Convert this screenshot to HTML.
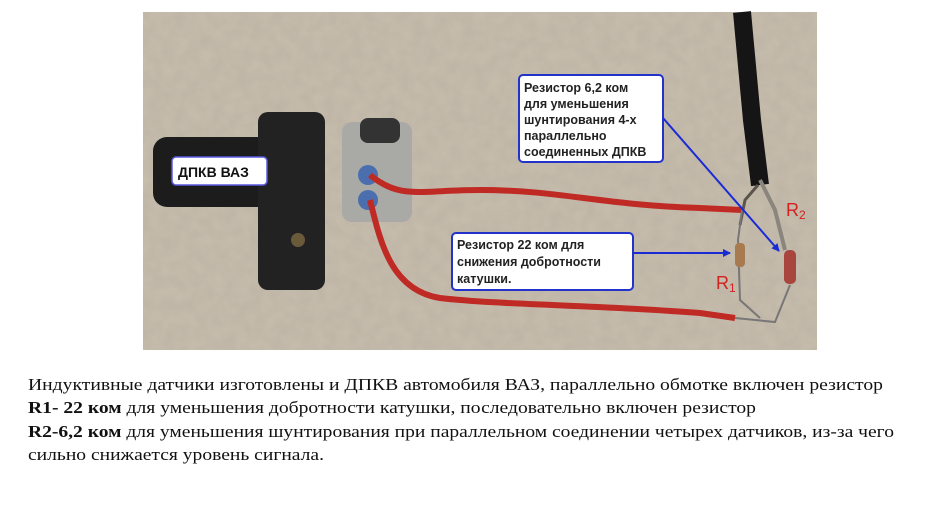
<!DOCTYPE html>
<html><head><meta charset="utf-8"><style>
html,body{margin:0;padding:0;background:#fff;width:931px;height:508px;overflow:hidden}
</style></head><body>
<svg width="931" height="508" viewBox="0 0 931 508" xmlns="http://www.w3.org/2000/svg">
<defs>
<filter id="tex" x="0" y="0" width="100%" height="100%">
<feTurbulence type="fractalNoise" baseFrequency="0.08" numOctaves="2" seed="3"/>
<feColorMatrix type="matrix" values="0 0 0 0 0.35  0 0 0 0 0.32  0 0 0 0 0.28  0 0 0 0.5 -0.1"/>
</filter>
<marker id="ah" markerWidth="8" markerHeight="8" refX="7" refY="4" orient="auto" markerUnits="userSpaceOnUse"><path d="M0,0 L8,4 L0,8 z" fill="#1a2bd6"/></marker>
</defs>
<rect x="143" y="12" width="674" height="338" fill="#c6bcac"/>
<rect x="143" y="12" width="674" height="338" filter="url(#tex)" opacity="0.6"/>
<!-- black cable -->
<path d="M742,12 L752,120 L760,185" stroke="#151515" stroke-width="18" fill="none"/>
<path d="M760,180 L775,210 L785,250" stroke="#8a857d" stroke-width="4" fill="none"/>
<path d="M758,185 L745,200 L740,225" stroke="#5a544c" stroke-width="3" fill="none"/>
<!-- sensor -->
<rect x="153" y="137" width="120" height="70" rx="14" fill="#1c1c1c"/>
<rect x="258" y="112" width="67" height="178" rx="10" fill="#222"/>
<circle cx="298" cy="240" r="7" fill="#6b5a3a"/>
<!-- connector -->
<rect x="342" y="122" width="70" height="100" rx="10" fill="#a9a9a6"/>
<rect x="360" y="118" width="40" height="25" rx="8" fill="#333"/>
<circle cx="368" cy="175" r="10" fill="#4b6fae"/>
<circle cx="368" cy="200" r="10" fill="#4b6fae"/>
<!-- wires -->
<path d="M370,175 C400,200 420,190 480,190 C560,190 600,205 700,208 L742,210" stroke="#c02a24" stroke-width="6" fill="none"/>
<path d="M370,200 C380,240 390,290 440,298 C500,305 600,305 700,313 L735,318" stroke="#c02a24" stroke-width="6" fill="none"/>
<path d="M735,318 L775,322 L790,285 M742,210 L738,240 L740,300 L760,318" stroke="#777" stroke-width="2" fill="none"/>
<!-- resistors -->
<rect x="735" y="243" width="10" height="24" rx="4" fill="#a87a50"/>
<rect x="784" y="250" width="12" height="34" rx="5" fill="#a8463e"/>
<!-- labels -->
<rect x="172" y="157" width="95" height="28" rx="4" fill="#fff" stroke="#5a5adf" stroke-width="1.5"/>
<text x="178" y="177" font-family="Liberation Sans, sans-serif" font-weight="bold" font-size="14" fill="#111">ДПКВ ВАЗ</text>
<rect x="519" y="75" width="144" height="87" rx="4" fill="#fff" stroke="#2233cc" stroke-width="2"/>
<g font-family="Liberation Sans, sans-serif" font-weight="bold" font-size="12.5" fill="#222">
<text x="524" y="92">Резистор 6,2 ком</text>
<text x="524" y="108">для уменьшения</text>
<text x="524" y="124">шунтирования 4-х</text>
<text x="524" y="140">параллельно</text>
<text x="524" y="156">соединенных ДПКВ</text>
</g>
<rect x="452" y="233" width="181" height="57" rx="4" fill="#fff" stroke="#2233cc" stroke-width="2"/>
<g font-family="Liberation Sans, sans-serif" font-weight="bold" font-size="12.5" fill="#222">
<text x="457" y="249">Резистор 22 ком для</text>
<text x="457" y="266">снижения добротности</text>
<text x="457" y="283">катушки.</text>
</g>
<line x1="663" y1="118" x2="779" y2="251" stroke="#1a2bd6" stroke-width="2" marker-end="url(#ah)"/>
<line x1="633" y1="253" x2="730" y2="253" stroke="#1a2bd6" stroke-width="2" marker-end="url(#ah)"/>
<text x="786" y="216" font-family="Liberation Sans, sans-serif" font-size="18" fill="#d42020">R<tspan font-size="12" dy="3">2</tspan></text>
<text x="716" y="289" font-family="Liberation Sans, sans-serif" font-size="18" fill="#d42020">R<tspan font-size="12" dy="3">1</tspan></text>
<!-- caption -->
<g font-family="Liberation Serif, serif" font-size="17" fill="#111">
<text x="28" y="390" textLength="855" lengthAdjust="spacingAndGlyphs">Индуктивные датчики изготовлены и ДПКВ автомобиля ВАЗ, параллельно обмотке включен резистор</text>
<text x="28" y="413" textLength="728" lengthAdjust="spacingAndGlyphs"><tspan font-weight="bold">R1- 22 ком</tspan> для уменьшения добротности катушки, последовательно включен резистор</text>
<text x="28" y="437" textLength="866" lengthAdjust="spacingAndGlyphs"><tspan font-weight="bold">R2-6,2 ком</tspan> для уменьшения шунтирования при параллельном соединении четырех датчиков, из-за чего</text>
<text x="28" y="460" textLength="296" lengthAdjust="spacingAndGlyphs">сильно снижается уровень сигнала.</text>
</g>
</svg>
</body></html>
